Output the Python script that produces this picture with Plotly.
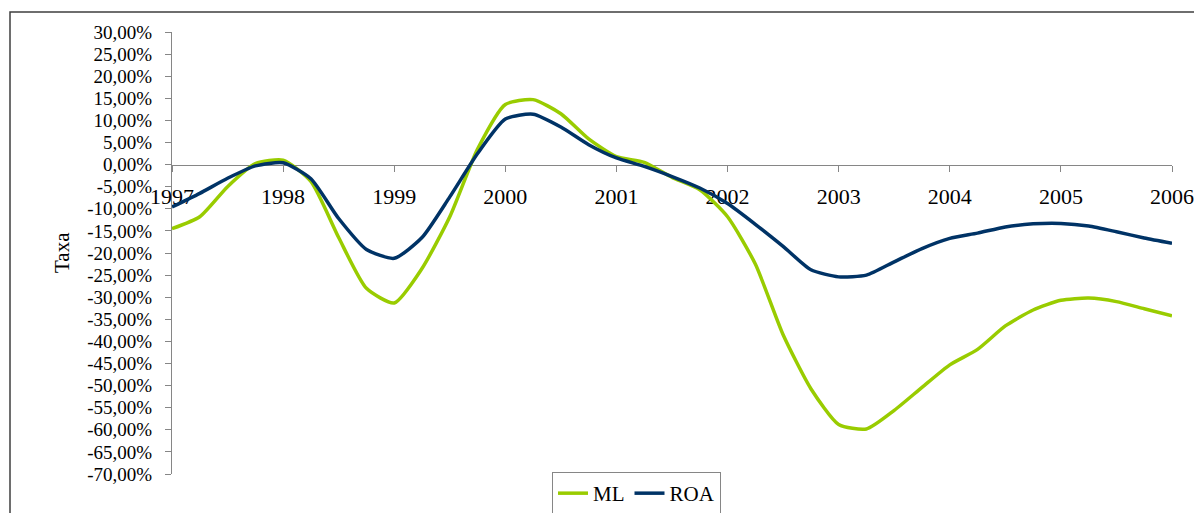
import plotly.graph_objects as go

# Quarterly observations, 1997 to 2006
periods = [1997 + q * 0.25 for q in range(37)]

ml = [-14.5, -11.8, -5.0, 0.2, 1.0, -3.8, -16.5, -28.0, -31.3,
      -23.5, -11.8, 3.5, 13.6, 14.7, 11.5, 5.8, 1.8,
      0.5, -2.9, -5.7, -11.8, -22.5, -38.5, -50.7, -58.8,
      -59.8, -55.6, -50.4, -45.3, -41.8, -36.5, -32.9, -30.7,
      -30.2, -31.0, -32.6, -34.2]

roa = [-9.6, -6.5, -3.1, -0.3, 0.4, -3.2, -12.2, -19.2, -21.2,
       -16.5, -7.3, 2.5, 10.3, 11.4, 8.5, 4.5, 1.5,
       -0.4, -2.7, -5.3, -8.8, -13.5, -18.5, -23.8, -25.4,
       -25.0, -22.0, -19.0, -16.7, -15.5, -14.1, -13.4, -13.3,
       -13.9, -15.2, -16.6, -17.8]

years = list(range(1997, 2007))
year_labels = [str(y) for y in years]

y_ticks = list(range(-70, 35, 5))
y_labels = [f"{v:.2f}".replace(".", ",") + "%" for v in y_ticks]
grid_ticks = list(range(-65, 30, 5))

GREEN = "rgb(153,204,0)"
NAVY = "rgb(0,51,102)"
GRID = "#868686"
FONT = "Liberation Serif"

y_min, y_max = -70, 30
zero_pos = (0 - y_min) / (y_max - y_min)

fig = go.Figure()
# series are drawn against the year axis that crosses at 0 %
fig.add_trace(go.Scatter(x=periods, y=ml, name="ML", mode="lines", xaxis="x2", yaxis="y",
                         line=dict(color=GREEN, width=3.5, shape="spline", smoothing=0.6)))
fig.add_trace(go.Scatter(x=periods, y=roa, name="ROA", mode="lines", xaxis="x2", yaxis="y",
                         line=dict(color=NAVY, width=3.5, shape="spline", smoothing=0.6)))

fig.update_layout(
    width=1194, height=513,
    margin=dict(l=172, r=22, t=32, b=39, autoexpand=False),
    paper_bgcolor="white", plot_bgcolor="white",
    font=dict(family=FONT, size=20, color="black"),
    showlegend=True,
    legend=dict(orientation="h", x=0.38, xanchor="left", y=0.0045, yanchor="top",
                bordercolor=GRID, borderwidth=1, bgcolor="white",
                font=dict(family=FONT, size=21, color="black"),
                traceorder="normal"),
    xaxis=dict(range=[1997, 2006], showline=True, linecolor="#ececec", linewidth=1,
               showticklabels=False, ticks="", showgrid=False, zeroline=False),
    xaxis2=dict(range=[1997, 2006], overlaying="x", anchor="free", position=zero_pos,
                side="bottom", tickmode="array", tickvals=years, ticktext=year_labels,
                ticks="outside", ticklen=6, tickcolor=GRID, tickwidth=1,
                showline=True, linecolor=GRID, linewidth=1, showgrid=False,
                zeroline=False, layer="below traces", ticklabelstandoff=6,
                tickfont=dict(family=FONT, size=22, color="black")),
    yaxis=dict(range=[y_min, y_max], tickmode="array", tickvals=y_ticks, ticktext=y_labels,
               ticks="outside", ticklen=6, tickcolor=GRID, tickwidth=1,
               showline=True, linecolor=GRID, linewidth=1, showgrid=False,
               zeroline=False, layer="below traces", ticklabelstandoff=9,
               tickfont=dict(family=FONT, size=19, color="black")),
    yaxis2=dict(range=[y_min, y_max], overlaying="y", tickmode="array", tickvals=grid_ticks,
                showticklabels=False, ticks="", showgrid=True, gridcolor=GRID, gridwidth=1,
                showline=False, zeroline=False),
)

fig.add_annotation(text="Taxa", xref="paper", yref="paper", x=-0.124, y=0.5,
                   textangle=-90, showarrow=False,
                   font=dict(family=FONT, size=21, color="black"))

# chart-area frame
fig.add_shape(type="rect", xref="paper", yref="paper",
              x0=-0.162, x1=1.2, y0=-0.3, y1=(474 - 12) / 442,
              line=dict(color="#3f3f3f", width=1.5), fillcolor="rgba(0,0,0,0)", layer="below")

fig.write_html("out.html")
